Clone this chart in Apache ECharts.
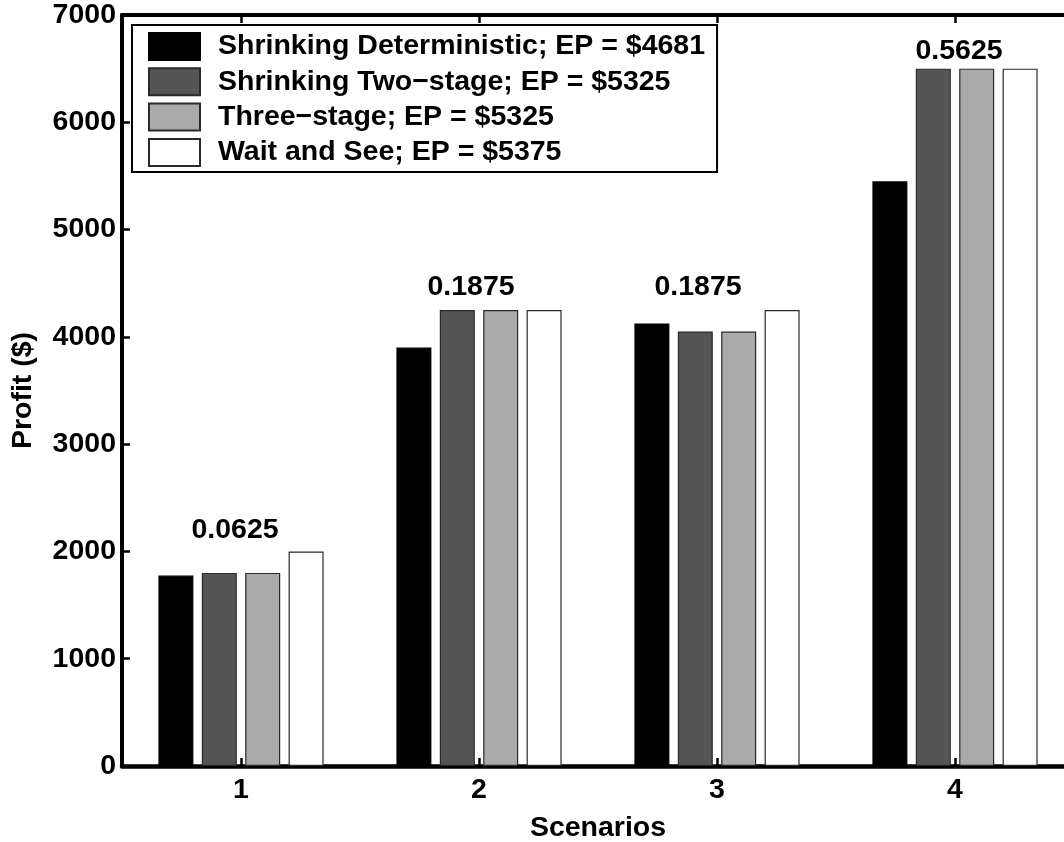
<!DOCTYPE html>
<html>
<head>
<meta charset="utf-8">
<script src="https://cdn.jsdelivr.net/npm/echarts@6/dist/echarts.min.js"></script>
<style>
  html, body { margin: 0; padding: 0; background: #fff; }
  #chart { width: 1064px; height: 842px; }
</style>
</head>
<body>
<div id="chart"></div>
<script>
// ---- data ----
const categories = ['1', '2', '3', '4'];
const seriesNames = [
  'Shrinking Deterministic; EP = $4681',
  'Shrinking Two\u2212stage; EP = $5325',
  'Three\u2212stage; EP = $5325',
  'Wait and See; EP = $5375'
];
const deterministic = [1775, 3900, 4125, 5450];
const twoStage = [1800, 4250, 4050, 6500];
const threeStage = [1800, 4250, 4050, 6500];
const waitAndSee = [2000, 4250, 4250, 6500];
const probabilities = ['0.0625', '0.1875', '0.1875', '0.5625'];
const yTicks = [0, 1000, 2000, 3000, 4000, 5000, 6000, 7000];

// ---- style ----
const FONT = 'Liberation Sans, Arial, Helvetica, sans-serif';
const FS = 28.5;
const fills = ['#000000', '#555555', '#aaaaaa', '#ffffff'];
const probLabelShift = [[-6, 0], [-8, -1], [-19, -1], [4, 4]];

const allSeries = [deterministic, twoStage, threeStage, waitAndSee];
const groupMax = categories.map((c, i) => Math.max(...allSeries.map(s => s[i])));

const chart = echarts.init(document.getElementById('chart'), null, { renderer: 'canvas' });

const barSeries = allSeries.map((vals, k) => ({
  name: seriesNames[k],
  type: 'bar',
  xAxisIndex: 0,
  data: vals,
  barWidth: 35,
  barGap: '24%',
  itemStyle: { color: fills[k], borderColor: k === 0 ? '#000' : '#2a2a2a', borderWidth: 1.2 },
  emphasis: { disabled: true },
  z: 2
}));

const labelStyle = { fontFamily: FONT, fontSize: FS, fontWeight: 'bold', color: '#000' };

const option = {
  backgroundColor: '#ffffff',
  animation: false,
  textStyle: { fontFamily: FONT, color: '#000' },
  grid: { left: 122, top: 15, width: 952, bottom: 76, outerBoundsMode: 'none', containLabel: false },
  legend: {
    data: seriesNames,
    orient: 'vertical',
    left: 132,
    top: 25,
    itemWidth: 51,
    itemHeight: 27,
    itemGap: 6.3,
    padding: [7, 12, 5, 16],
    backgroundColor: '#ffffff',
    borderColor: '#000',
    borderWidth: 2,
    borderRadius: 0,
    icon: 'rect',
    textStyle: { fontFamily: FONT, fontSize: FS, fontWeight: 'bold', color: '#000', padding: [0, 0, 0, 13] }
  },
  xAxis: [
    {
      type: 'category',
      data: categories,
      position: 'bottom',
      boundaryGap: true,
      name: 'Scenarios',
      nameLocation: 'middle',
      nameGap: 48,
      nameTextStyle: labelStyle,
      axisLine: { show: true, onZero: false, lineStyle: { color: '#000', width: 4.5 } },
      axisTick: { show: true, inside: true, alignWithLabel: true, length: 8, lineStyle: { color: '#000', width: 2.5 } },
      axisLabel: Object.assign({ show: true, margin: 10 }, labelStyle),
      splitLine: { show: false }
    },
    {
      type: 'category',
      data: categories,
      position: 'top',
      boundaryGap: true,
      axisLine: { show: true, onZero: false, lineStyle: { color: '#000', width: 4 } },
      axisTick: { show: true, inside: true, alignWithLabel: true, length: 8, lineStyle: { color: '#000', width: 2.5 } },
      axisLabel: { show: false },
      splitLine: { show: false }
    }
  ],
  yAxis: {
    type: 'value',
    min: yTicks[0],
    max: yTicks[yTicks.length - 1],
    interval: yTicks[1] - yTicks[0],
    name: 'Profit ($)',
    nameLocation: 'middle',
    nameGap: 84,
    nameTextStyle: labelStyle,
    axisLine: { show: true, onZero: false, lineStyle: { color: '#000', width: 4 } },
    axisTick: { show: true, inside: true, length: 8, lineStyle: { color: '#000', width: 2.5 } },
    axisLabel: Object.assign({ show: true, margin: 6, formatter: v => String(v) }, labelStyle),
    splitLine: { show: false }
  },
  series: barSeries.concat([{
    name: 'probability',
    type: 'scatter',
    xAxisIndex: 0,
    symbolSize: 0,
    silent: true,
    itemStyle: { opacity: 1, color: '#000' },
    label: Object.assign({ show: true, position: 'top', distance: 7, opacity: 1 }, labelStyle),
    data: groupMax.map((v, i) => ({
      value: v,
      label: Object.assign({
        show: true,
        position: 'top',
        distance: 7,
        opacity: 1,
        offset: probLabelShift[i],
        formatter: probabilities[i]
      }, labelStyle)
    })),
    z: 5
  }])
};

chart.setOption(option);
</script>
</body>
</html>
